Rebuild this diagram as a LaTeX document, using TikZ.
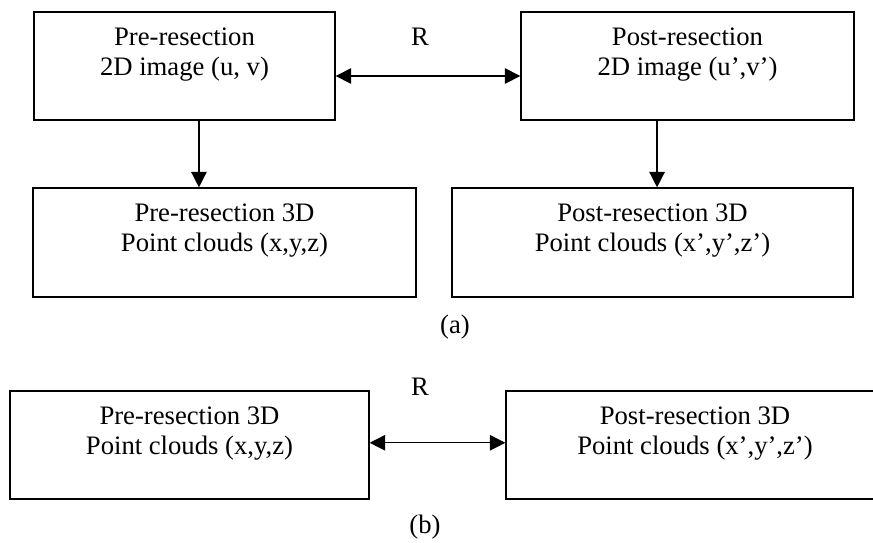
\documentclass[tikz,border=0pt]{standalone}
\usepackage{fontspec}
\setmainfont{Liberation Serif}
\usetikzlibrary{positioning,arrows.meta}
\newcommand{\lnstrut}{\rule{0pt}{10pt}}
\tikzset{
  box/.style={draw, line width=0.6pt, inner sep=0pt},
  txt/.style={align=center, inner sep=0pt, outer sep=0pt},
  conn/.style={line width=0.6pt},
}
\begin{document}
\begin{tikzpicture}[x=0.45pt, y=-0.45pt, font=\fontsize{12}{13.5}\selectfont,
  >={Triangle[length=7pt, width=7pt]}]
\useasboundingbox (0,0) rectangle (873,542);
\clip (0,0) rectangle (873,542);
\node[box, minimum width=135.45pt, minimum height=48.6pt] (pre2d) at (184.5,66) {};
\node[box, minimum width=149.85pt, minimum height=48.6pt] (post2d) at (687.5,66) {};
\node[box, minimum width=172.35pt, minimum height=49.05pt] (pre3d) at (224.5,242.5) {};
\node[box, minimum width=180.45pt, minimum height=49.05pt] (post3d) at (652.5,242.5) {};
\node[box, minimum width=161.55pt, minimum height=48.6pt] (pre3db) at (189.5,445) {};
\node[box, minimum width=189pt, minimum height=48.6pt] (post3db) at (716,445) {};
\node[txt, below=5.3pt of pre2d.north] (pre2dtxt) {\lnstrut Pre-resection\\2D image (u, v)};
\node[txt, below=5.3pt of post2d.north] (post2dtxt) {\lnstrut Post-resection\\2D image (u',v')};
\node[txt, below=5.3pt of pre3d.north] (pre3dtxt) {\lnstrut Pre-resection 3D\\Point clouds (x,y,z)};
\node[txt, below=5.3pt of post3d.north] (post3dtxt) {\lnstrut Post-resection 3D\\Point clouds (x',y',z')};
\node[txt, below=5.3pt of pre3db.north] (pre3dbtxt) {\lnstrut Pre-resection 3D\\Point clouds (x,y,z)};
\node[txt, below=5.3pt of post3db.north, xshift=-9.45pt] (post3dbtxt) {\lnstrut Post-resection 3D\\Point clouds (x',y',z')};
\node[anchor=base, inner sep=0pt] (rtop) at (420,45) {R};
\node[anchor=base, inner sep=0pt] (rbot) at (420,395) {R};
\node[anchor=base, inner sep=0pt] (capa) at (455,333) {(a)};
\node[anchor=base, inner sep=0pt] (capb) at (425,533) {(b)};
\draw[conn, <->] ([yshift=-4.5pt]pre2d.east) -- ([yshift=-4.5pt]pre2d.east -| post2d.west);
\draw[conn, ->] ([xshift=6.5pt]pre2d.south) -- ([xshift=6.5pt]pre2d.south |- pre3d.north);
\draw[conn, ->] ([xshift=-13.7pt]post2d.south) -- ([xshift=-13.7pt]post2d.south |- post3d.north);
\draw[conn, <->] ([yshift=1pt]pre3db.east) -- ([yshift=1pt]pre3db.east -| post3db.west);
\end{tikzpicture}
\end{document}
